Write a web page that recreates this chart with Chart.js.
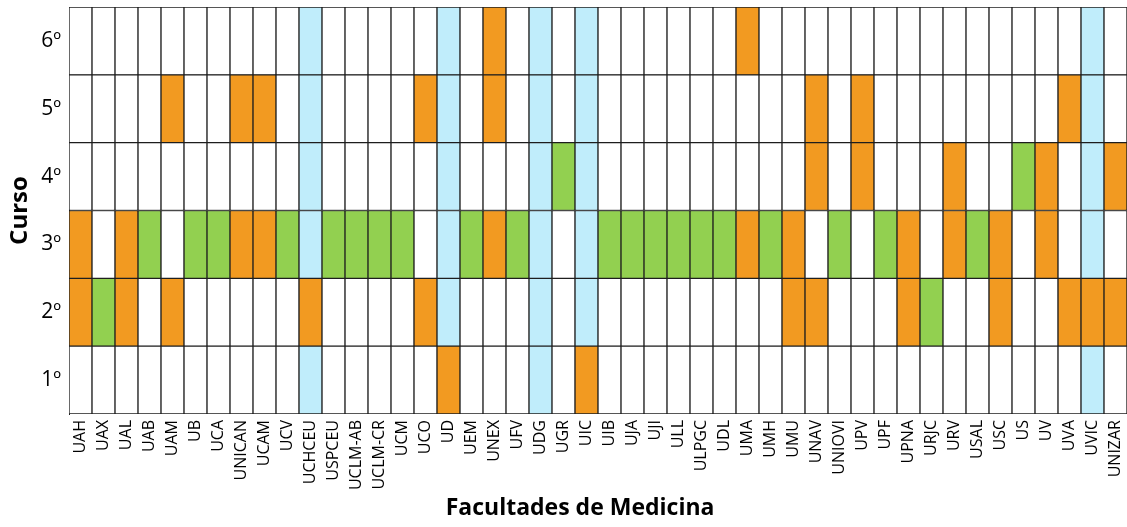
<!DOCTYPE html>
<html>
<head>
<meta charset="utf-8">
<script src="https://cdn.jsdelivr.net/npm/chart.js@4/dist/chart.umd.min.js"></script>
<style>
html,body{margin:0;padding:0;background:#fff;}
canvas{display:block;}
</style>
</head>
<body>
<canvas id="c" width="1127" height="527"></canvas>
<script>
// Universities (x categories)
const faculties = ['UAH','UAX','UAL','UAB','UAM','UB','UCA','UNICAN','UCAM','UCV','UCHCEU','USPCEU','UCLM-AB','UCLM-CR','UCM','UCO','UD','UEM','UNEX','UFV','UDG','UGR','UIC','UIB','UJA','UJI','ULL','ULPGC','UDL','UMA','UMH','UMU','UNAV','UNIOVI','UPV','UPF','UPNA','URJC','URV','USAL','USC','US','UV','UVA','UVIC','UNIZAR'];
// Course rows (bottom to top)
const courses = ['1º','2º','3º','4º','5º','6º'];
// Cell status codes: 0 = none, 1 = orange, 2 = green, 3 = blue
const course1 = [0,0,0,0,0,0,0,0,0,0,3,0,0,0,0,0,1,0,0,0,3,0,1,0,0,0,0,0,0,0,0,0,0,0,0,0,0,0,0,0,0,0,0,0,3,0];
const course2 = [1,2,1,0,1,0,0,0,0,0,1,0,0,0,0,1,3,0,0,0,3,0,3,0,0,0,0,0,0,0,0,1,1,0,0,0,1,2,0,0,1,0,0,1,1,1];
const course3 = [1,0,1,2,0,2,2,1,1,2,3,2,2,2,2,0,3,2,1,2,3,0,3,2,2,2,2,2,2,1,2,1,0,2,0,2,1,0,1,2,1,0,1,0,3,0];
const course4 = [0,0,0,0,0,0,0,0,0,0,3,0,0,0,0,0,3,0,0,0,3,2,3,0,0,0,0,0,0,0,0,0,1,0,1,0,0,0,1,0,0,2,1,0,3,1];
const course5 = [0,0,0,0,1,0,0,1,1,0,3,0,0,0,0,1,3,0,1,0,3,0,3,0,0,0,0,0,0,0,0,0,1,0,1,0,0,0,0,0,0,0,0,1,3,0];
const course6 = [0,0,0,0,0,0,0,0,0,0,3,0,0,0,0,0,3,0,1,0,3,0,3,0,0,0,0,0,0,1,0,0,0,0,0,0,0,0,0,0,0,0,0,0,3,0];
const rows = [course1, course2, course3, course4, course5, course6];

const palette = ['#FFFFFF', '#F29A21', '#92D050', '#C0EDFB'];
const fontFam = '"Open Sans", "DejaVu Sans", sans-serif';

const datasets = rows.map((codes, r) => ({
  label: courses[r],
  data: codes.map(() => 1),
  backgroundColor: codes.map(c => palette[c]),
  borderColor: '#1e1e1e',
  borderWidth: 1,
  borderSkipped: false,
  barPercentage: 1,
  categoryPercentage: 1
}));

new Chart(document.getElementById('c'), {
  type: 'bar',
  data: { labels: faculties, datasets },
  options: {
    responsive: false,
    animation: false,
    layout: { padding: { top: 7, right: 0, left: 0, bottom: 0 } },
    plugins: { legend: { display: false }, tooltip: { enabled: false } },
    scales: {
      x: {
        stacked: true,
        grid: { display: false, drawTicks: false },
        border: { display: false },
        ticks: {
          autoSkip: false, minRotation: 90, maxRotation: 90, padding: 6,
          color: '#000', font: { family: fontFam, size: 16 }
        },
        title: {
          display: true, text: 'Facultades de Medicina      ', color: '#000',
          font: { family: fontFam, size: 23, weight: 'bold' },
          padding: { top: 0, bottom: 5 }
        },
        afterFit: s => { s.height = 113; s.paddingLeft = 0; s.paddingRight = 0; }
      },
      y: {
        stacked: true, min: 0, max: 6,
        grid: { display: false, drawTicks: false },
        border: { display: true, color: '#1e1e1e', width: 1 },
        afterBuildTicks: s => { s.ticks = courses.map((_, i) => ({ value: i + 0.5 })); },
        ticks: {
          padding: 8, color: '#000',
          font: { family: fontFam, size: 21 },
          callback: v => courses[Math.floor(v)]
        },
        title: {
          display: true, text: 'Curso', color: '#000',
          font: { family: fontFam, size: 24, weight: 'bold' },
          padding: { top: 6, bottom: 0 }
        },
        afterFit: s => { s.width = 69; s.paddingTop = 0; s.paddingBottom = 0; }
      }
    }
  }
});
</script>
</body>
</html>
